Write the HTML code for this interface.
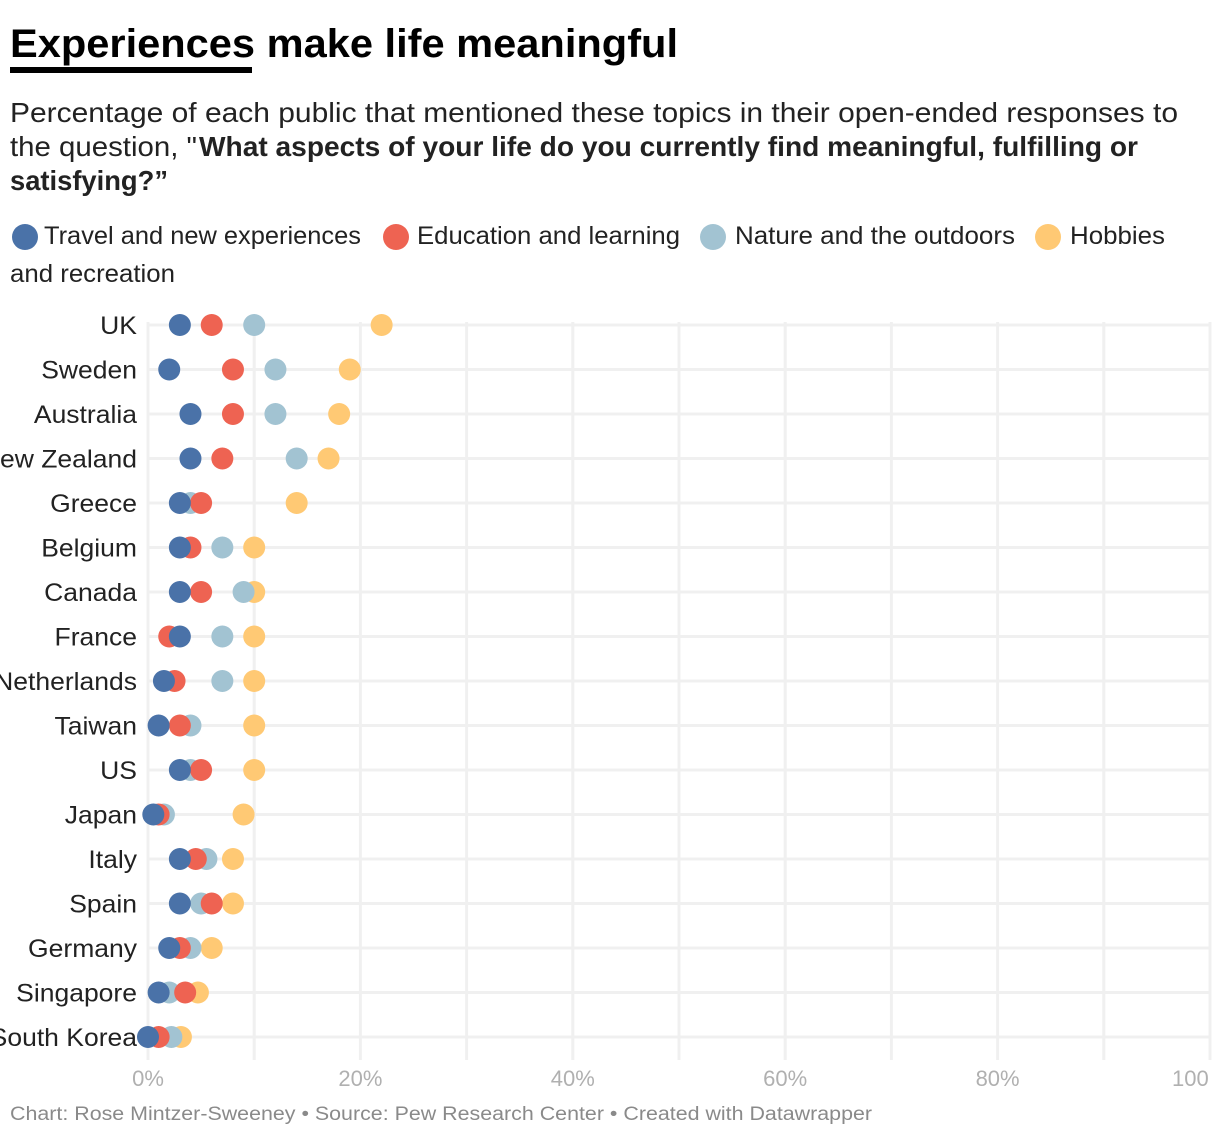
<!DOCTYPE html>
<html><head><meta charset="utf-8"><style>
html,body{margin:0;padding:0;background:#fff;}
svg{display:block;font-family:"Liberation Sans",sans-serif;}
</style></head><body>
<svg id="chart" width="1220" height="1138" viewBox="0 0 1220 1138">
<text x="10" y="57" font-size="40" font-weight="bold" fill="#000" textLength="668" lengthAdjust="spacingAndGlyphs">Experiences make life meaningful</text>
<rect x="10" y="67" width="242" height="6" fill="#000"/>
<text x="10" y="122" font-size="28" fill="#222" textLength="1168" lengthAdjust="spacingAndGlyphs">Percentage of each public that mentioned these topics in their open-ended responses to</text>
<text x="10" y="156" font-size="28" fill="#222" textLength="187" lengthAdjust="spacingAndGlyphs">the question, "</text>
<text x="199" y="156" font-size="28" font-weight="bold" fill="#222" textLength="939" lengthAdjust="spacingAndGlyphs">What aspects of your life do you currently find meaningful, fulfilling or</text>
<text x="10" y="190" font-size="28" font-weight="bold" fill="#222" textLength="158" lengthAdjust="spacingAndGlyphs">satisfying?”</text>
<g>
<circle cx="25" cy="237" r="13" fill="#4a72a8"/>
<text x="44" y="244" font-size="25" fill="#222" textLength="317" lengthAdjust="spacingAndGlyphs">Travel and new experiences</text>
<circle cx="396" cy="237" r="13" fill="#ee6352"/>
<text x="417" y="244" font-size="25" fill="#222" textLength="263" lengthAdjust="spacingAndGlyphs">Education and learning</text>
<circle cx="713" cy="237" r="13" fill="#a2c3d2"/>
<text x="735" y="244" font-size="25" fill="#222" textLength="280" lengthAdjust="spacingAndGlyphs">Nature and the outdoors</text>
<circle cx="1048" cy="237" r="13" fill="#ffc974"/>
<text x="1070" y="244" font-size="25" fill="#222" textLength="95" lengthAdjust="spacingAndGlyphs">Hobbies</text>
<text x="10" y="282" font-size="25" fill="#222" textLength="165" lengthAdjust="spacingAndGlyphs">and recreation</text>
</g>
<g id="grid"></g>
<g id="labels"></g>
<g id="dots"></g>
<text x="10" y="1120" font-size="19" fill="#8a8a8a" textLength="862" lengthAdjust="spacingAndGlyphs">Chart: Rose Mintzer-Sweeney • Source: Pew Research Center • Created with Datawrapper</text>
</svg>
<script>
const countries = ["UK","Sweden","Australia","New Zealand","Greece","Belgium","Canada","France","Netherlands","Taiwan","US","Japan","Italy","Spain","Germany","Singapore","South Korea"];
const travel    = [3,2,4,4,3,3,3,3,1.5,1,3,0.5,3,3,2,1,0];
const education = [6,8,8,7,5,4,5,2,2.5,3,5,1,4.5,6,3,3.5,1];
const nature    = [10,12,12,14,4,7,9,7,7,4,4,1.5,5.5,5,4,2,2.2];
const hobbies   = [22,19,18,17,14,10,10,10,10,10,10,9,8,8,6,4.7,3.1];
const xTicks = [0,20,40,60,80,100];
const xTickLabels = ["0%","20%","40%","60%","80%","100"];

const NS = "http://www.w3.org/2000/svg";
const x0 = 148, x1 = 1210;
const xs = v => x0 + (x1 - x0) * v / 100;
const ys = i => 325 + i * 44.5;
function mk(tag, attrs, parent){const e=document.createElementNS(NS,tag);for(const k in attrs)e.setAttribute(k,attrs[k]);parent.appendChild(e);return e;}
const grid=document.getElementById('grid'),labels=document.getElementById('labels'),dots=document.getElementById('dots');
for(let v=0;v<=100;v+=10){
  const l=mk('line',{x1:xs(v),x2:xs(v),y1:322,y2:1060,stroke:'#f0f0f0','stroke-width':3},grid);
  
  
}
xTicks.forEach((v,i)=>{
  const t=mk('text',{x:xs(v),y:1086,'font-size':22,fill:'#b0b0b0','text-anchor':i===xTicks.length-1?'start':'middle'},labels);
  if(i===xTicks.length-1) t.setAttribute('x',xs(v)-38);
  t.textContent=xTickLabels[i];
  
  
});
countries.forEach((c,i)=>{
  const y=ys(i);
  const g=mk('line',{x1:x0,x2:x1,y1:y,y2:y,stroke:'#f0f0f0','stroke-width':3},grid);
  
  
  const t=mk('text',{x:137,y:y+9,'font-size':25,fill:'#222','text-anchor':'end'},labels);
  t.textContent=c;
  const w=t.getComputedTextLength();
  t.setAttribute('textLength',w*1.06);
  t.setAttribute('lengthAdjust','spacingAndGlyphs');
  
  
});
const series=[[hobbies,'#ffc974','hobbies'],[nature,'#a2c3d2','nature'],[education,'#ee6352','education'],[travel,'#4a72a8','travel']];
series.forEach(([vals,col,name])=>{
  vals.forEach((v,i)=>{
    const d=mk('circle',{cx:xs(v),cy:ys(i),r:11,fill:col},dots);
    
    
  });
});
</script>
</body></html>
